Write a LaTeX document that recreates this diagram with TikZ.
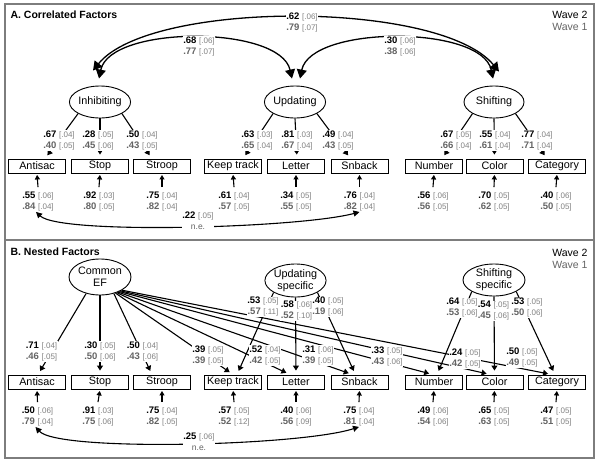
\documentclass[tikz,border=0pt]{standalone}
\usepackage{fontspec}
\setmainfont{Liberation Sans}
\usetikzlibrary{arrows.meta,shapes.geometric}

\definecolor{panelgray}{RGB}{125,125,125}
\definecolor{wone}{RGB}{100,100,100}
\definecolor{brk}{RGB}{130,130,130}

% one estimate: bold value, small standard error
\newcommand{\wv}[2]{\textbf{#1}~{\fontsize{8}{8}\selectfont\color{brk}[#2]}}
% wave 2 over wave 1
\newcommand{\est}[4]{\wv{#1}{#2}\\{\color{wone}\wv{#3}{#4}}}

\tikzset{
  task/.style={draw, line width=0.9pt, minimum width=57pt, minimum height=14pt, inner sep=0pt,
    font=\fontsize{10.8}{12}\selectfont},
  factor/.style={draw, line width=0.9pt, ellipse, minimum width=60pt, minimum height=32pt,
    inner sep=0pt, align=center, font=\fontsize{10.8}{12}\selectfont},
  lbl/.style={fill=white, inner sep=0.6pt, align=center,
    font=\fontsize{9.5}{11}\selectfont},
  load/.style={line width=1.1pt, -{Triangle[width=6pt,length=5pt]}, shorten >=4pt},
  resid/.style={line width=1.1pt, -{Triangle[width=5pt,length=4.5pt]}, shorten >=1.5pt},
  corr/.style={line width=1.3pt, {Triangle[width=10pt,length=9pt]}-{Triangle[width=10pt,length=9pt]}},
  ecorr/.style={line width=1.1pt, {Triangle[width=6pt,length=6pt]}-{Triangle[width=6pt,length=6pt]}},
  hdr/.style={font=\fontsize{10.5}{12}\selectfont}
}

\begin{document}
\begin{tikzpicture}[x=1pt,y=-1pt]
\useasboundingbox (0,0) rectangle (600,464);
\draw[panelgray, line width=1.6pt] (5,4) rectangle (594,239.5);
\draw[panelgray, line width=1.6pt] (5,240.5) rectangle (594,458);

% A. correlated factors
\node[anchor=west, font=\bfseries\fontsize{10.5}{12}\selectfont] (titA) at (7,15) {A. Correlated Factors};
\node[hdr, anchor=east] (wtwoA) at (591,15) {Wave 2};
\node[hdr, anchor=east, text=wone] (woneA) at (591,27) {Wave 1};

\node[factor] (inh) at (100,102) {Inhibiting};
\node[factor] (upd) at (295,102) {Updating};
\node[factor] (shf) at (494,102) {Shifting};

\node[task] (antA) at (37,166) {Antisac};
\node[task] (stpA) at (100,166) {Stop};
\node[task] (strA) at (162,166) {Stroop};
\node[task] (kepA) at (233,166) {Keep track};
\node[task] (letA) at (296,166) {Letter};
\node[task] (snbA) at (359.5,166) {Snback};
\node[task] (numA) at (434,166) {Number};
\node[task] (colA) at (494.5,166) {Color};
\node[task] (catA) at (557,166) {Category};

\path[draw,load] (inh.south west) -- ([xshift=8pt]antA.north);
\path[draw,load] (inh.south) -- (stpA.north);
\path[draw,load] (inh.south east) -- ([xshift=-10pt]strA.north);
\path[draw,load] (upd.south west) -- ([xshift=10pt]kepA.north);
\path[draw,load] (upd.south) -- ([xshift=1pt]letA.north);
\path[draw,load] (upd.south east) -- ([xshift=-9pt]snbA.north);
\path[draw,load] (shf.south west) -- ([xshift=8pt]numA.north);
\path[draw,load] (shf.south) -- (colA.north);
\path[draw,load] (shf.south east) -- ([xshift=-10pt]catA.north);

\node[lbl] (lAntA) at (59,140.5) {\est{.67}{.04}{.40}{.05}};
\node[lbl] (lStpA) at (98,140.5) {\est{.28}{.05}{.45}{.06}};
\node[lbl] (lStrA) at (142,140.5) {\est{.50}{.04}{.43}{.05}};
\node[lbl] (lKepA) at (257,140.5) {\est{.63}{.03}{.65}{.04}};
\node[lbl] (lLetA) at (297,140.5) {\est{.81}{.03}{.67}{.04}};
\node[lbl] (lSnbA) at (338,140.5) {\est{.49}{.04}{.43}{.05}};
\node[lbl] (lNumA) at (456,140.5) {\est{.67}{.05}{.66}{.04}};
\node[lbl] (lColA) at (495,140.5) {\est{.55}{.04}{.61}{.04}};
\node[lbl] (lCatA) at (537,140.5) {\est{.77}{.04}{.71}{.04}};

\node[lbl] (rAntA) at (38,201.5) {\est{.55}{.06}{.84}{.04}};
\node[lbl] (rStpA) at (99,201.5) {\est{.92}{.03}{.80}{.05}};
\node[lbl] (rStrA) at (162,201.5) {\est{.75}{.04}{.82}{.04}};
\node[lbl] (rKepA) at (234,201.5) {\est{.61}{.04}{.57}{.05}};
\node[lbl] (rLetA) at (296,201.5) {\est{.34}{.05}{.55}{.05}};
\node[lbl] (rSnbA) at (359.5,201.5) {\est{.76}{.04}{.82}{.04}};
\node[lbl] (rNumA) at (433,201.5) {\est{.56}{.06}{.56}{.05}};
\node[lbl] (rColA) at (494,201.5) {\est{.70}{.05}{.62}{.05}};
\node[lbl] (rCatA) at (556,201.5) {\est{.40}{.06}{.50}{.05}};

\path[draw,resid] ([yshift=4pt]rAntA.north) -- (antA.south);
\path[draw,resid] ([yshift=4pt]rStpA.north) -- (stpA.south);
\path[draw,resid] ([yshift=4pt]rStrA.north) -- (strA.south);
\path[draw,resid] ([yshift=4pt]rKepA.north) -- (kepA.south);
\path[draw,resid] ([yshift=4pt]rLetA.north) -- (letA.south);
\path[draw,resid] ([yshift=4pt]rSnbA.north) -- (snbA.south);
\path[draw,resid] ([yshift=4pt]rNumA.north) -- (numA.south);
\path[draw,resid] ([yshift=4pt]rColA.north) -- (colA.south);
\path[draw,resid] ([yshift=4pt]rCatA.north) -- (catA.south);

\path[draw,ecorr] ([xshift=-2pt]rAntA.south) .. controls (60,235) and (300,228) .. (rSnbA.south);
\node[lbl] (neA) at (198,220.5) {\wv{.22}{.05}\\{\color{wone}\fontsize{8.5}{9}\selectfont n.e.}};

% factor correlations
\path[draw,corr] ([xshift=-7pt,yshift=15pt]inh.north) .. controls (150,0) and (440,0) .. ([xshift=5pt,yshift=14pt]shf.north);
\path[draw,corr] ([xshift=-1pt,yshift=7pt]inh.north) .. controls (110,25) and (280,25) .. ([xshift=-3pt,yshift=7pt]upd.north);
\path[draw,corr] ([xshift=5pt,yshift=7pt]upd.north) .. controls (311,25) and (482,25) .. ([xshift=-1pt,yshift=7pt]shf.north);
\node[lbl] (cIS) at (302,22.5) {\est{.62}{.06}{.79}{.07}};
\node[lbl] (cIU) at (199,46.5) {\est{.68}{.06}{.77}{.07}};
\node[lbl] (cUS) at (400,46.5) {\est{.30}{.06}{.38}{.06}};

% B. nested factors
\node[anchor=west, font=\bfseries\fontsize{10.5}{12}\selectfont] (titB) at (7,251.5) {B. Nested Factors};
\node[hdr, anchor=east] (wtwoB) at (591,253) {Wave 2};
\node[hdr, anchor=east, text=wone] (woneB) at (591,265) {Wave 1};

\node[factor, minimum height=36pt] (cef) at (100,277) {Common\\EF};
\node[factor, minimum width=61pt, minimum height=33pt] (ups) at (295.5,280.5) {Updating\\specific};
\node[factor, minimum width=62pt] (shs) at (494,280) {Shifting\\specific};

\node[task] (antB) at (37,382) {Antisac};
\node[task] (stpB) at (100,382) {Stop};
\node[task] (strB) at (162,382) {Stroop};
\node[task] (kepB) at (233,382) {Keep track};
\node[task] (letB) at (296,382) {Letter};
\node[task] (snbB) at (359.5,382) {Snback};
\node[task] (numB) at (434,382) {Number};
\node[task] (colB) at (494.5,382) {Color};
\node[task] (catB) at (557,382) {Category};

\path[draw,load] (cef.230) -- ([xshift=1pt]antB.north);
\path[draw,load] (cef.south) -- (stpB.north);
\path[draw,load] (cef.-50) -- ([xshift=-10pt]strB.north);
\path[draw,load] (cef.-46) -- (kepB.north);
\path[draw,load] (cef.-43) -- ([xshift=-6pt]letB.north);
\path[draw,load] (cef.-40) -- ([xshift=-7pt]snbB.north);
\path[draw,load] (cef.-37) -- ([xshift=-1pt]numB.north);
\path[draw,load] (cef.-34) -- ([xshift=-4pt]colB.north);
\path[draw,load] (cef.-31) -- ([xshift=-5pt]catB.north);

\path[draw,load] (ups.south west) -- ([xshift=4pt]kepB.north);
\path[draw,load] (ups.south) -- (letB.north);
\path[draw,load] (ups.south east) -- ([xshift=-4pt]snbB.north);
\path[draw,load] (shs.south west) -- ([xshift=3pt]numB.north);
\path[draw,load] (shs.south) -- (colB.north);
\path[draw,load] (shs.south east) -- ([xshift=-2pt]catB.north);

\node[lbl] (lAntB) at (41.5,351.5) {\est{.71}{.04}{.46}{.05}};
\node[lbl] (lStpB) at (100,351.5) {\est{.30}{.05}{.50}{.06}};
\node[lbl] (lStrB) at (142.5,351.5) {\est{.50}{.04}{.43}{.06}};
\node[lbl] (lKepB) at (208,355.5) {\est{.39}{.05}{.39}{.05}};
\node[lbl] (lLetB) at (265,355.5) {\est{.52}{.04}{.42}{.05}};
\node[lbl] (lSnbB) at (318,355.5) {\est{.31}{.06}{.39}{.05}};
\node[lbl] (lNumB) at (387,357) {\est{.33}{.05}{.43}{.06}};
\node[lbl] (lColB) at (465,358.5) {\est{.24}{.05}{.42}{.05}};
\node[lbl] (lCatB) at (522,358) {\est{.50}{.05}{.49}{.05}};

\node[lbl] (sKep) at (263,307) {\est{.53}{.05}{.57}{.11}};
\node[lbl] (sLet) at (296.5,311) {\est{.58}{.06}{.52}{.10}};
\node[lbl] (sSnb) at (328,307) {\est{.40}{.05}{.19}{.06}};
\node[lbl] (sNum) at (462,308) {\est{.64}{.05}{.53}{.06}};
\node[lbl] (sCol) at (493.5,311) {\est{.54}{.05}{.45}{.06}};
\node[lbl] (sCat) at (527,308) {\est{.53}{.05}{.50}{.06}};

\node[lbl] (rAntB) at (37.5,416.5) {\est{.50}{.06}{.79}{.04}};
\node[lbl] (rStpB) at (98,416.5) {\est{.91}{.03}{.75}{.06}};
\node[lbl] (rStrB) at (162,416.5) {\est{.75}{.04}{.82}{.05}};
\node[lbl] (rKepB) at (234,416.5) {\est{.57}{.05}{.52}{.12}};
\node[lbl] (rLetB) at (296,416.5) {\est{.40}{.06}{.56}{.09}};
\node[lbl] (rSnbB) at (359,416.5) {\est{.75}{.04}{.81}{.04}};
\node[lbl] (rNumB) at (433,416.5) {\est{.49}{.06}{.54}{.06}};
\node[lbl] (rColB) at (494,416.5) {\est{.65}{.05}{.63}{.05}};
\node[lbl] (rCatB) at (556,416.5) {\est{.47}{.05}{.51}{.05}};

\path[draw,resid] ([yshift=4pt]rAntB.north) -- (antB.south);
\path[draw,resid] ([yshift=4pt]rStpB.north) -- (stpB.south);
\path[draw,resid] ([yshift=4pt]rStrB.north) -- (strB.south);
\path[draw,resid] ([yshift=4pt]rKepB.north) -- (kepB.south);
\path[draw,resid] ([yshift=4pt]rLetB.north) -- (letB.south);
\path[draw,resid] ([yshift=4pt]rSnbB.north) -- (snbB.south);
\path[draw,resid] ([yshift=4pt]rNumB.north) -- (numB.south);
\path[draw,resid] ([yshift=4pt]rColB.north) -- (colB.south);
\path[draw,resid] ([yshift=4pt]rCatB.north) -- (catB.south);

\path[draw,ecorr] ([xshift=-2pt]rAntB.south) .. controls (58,452) and (300,446) .. (rSnbB.south);
\node[lbl] (neB) at (199,441.5) {\wv{.25}{.06}\\{\color{wone}\fontsize{8.5}{9}\selectfont n.e.}};
\end{tikzpicture}
\end{document}
